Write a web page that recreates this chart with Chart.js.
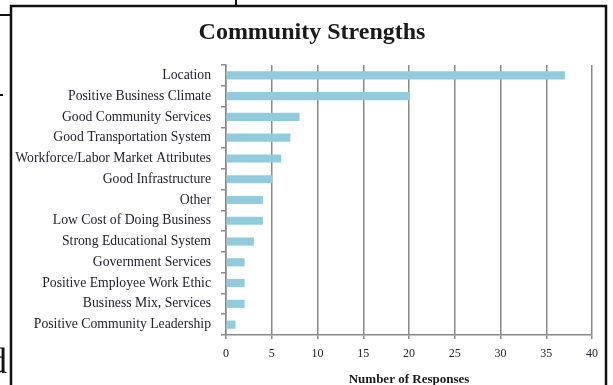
<!DOCTYPE html>
<html>
<head>
<meta charset="utf-8">
<title>Community Strengths</title>
<script src="https://cdn.jsdelivr.net/npm/chart.js@4/dist/chart.umd.min.js"></script>
<style>
  html, body { margin: 0; padding: 0; background: #ffffff; }
  #wrap { width: 613px; height: 385px; position: relative; }
</style>
</head>
<body>
<div id="wrap"><canvas id="chart" width="613" height="385"></canvas></div>
<script>
// Survey answers: what respondents named as the community's strengths
const categories = [
  'Location',
  'Positive Business Climate',
  'Good Community Services',
  'Good Transportation System',
  'Workforce/Labor Market Attributes',
  'Good Infrastructure',
  'Other',
  'Low Cost of Doing Business',
  'Strong Educational System',
  'Government Services',
  'Positive Employee Work Ethic',
  'Business Mix, Services',
  'Positive Community Leadership'
];
const responses = [37, 20, 8, 7, 6, 5, 4, 4, 3, 2, 2, 2, 1];
const xTickValues = [0, 5, 10, 15, 20, 25, 30, 35, 40];
const chartTitle = 'Community Strengths';

const SERIF = '"Liberation Serif", "DejaVu Serif", serif';
const GRID = '#8a8a8a';

// Heading, page frame around the figure and the cut-off bits of the surrounding page
const framePlugin = {
  id: 'frame',
  afterDraw(chart) {
    const ctx = chart.ctx;
    ctx.save();
    ctx.fillStyle = '#1a1a1a';
    ctx.font = 'bold 24px ' + SERIF;
    ctx.textAlign = 'center';
    ctx.textBaseline = 'middle';
    ctx.fillText(chartTitle, 312, 33);

    ctx.strokeStyle = '#111111';
    ctx.lineWidth = 2.5;
    ctx.beginPath();
    ctx.moveTo(11, 385); ctx.lineTo(11, 6); ctx.lineTo(606, 6); ctx.lineTo(606, 385);
    ctx.stroke();
    ctx.lineWidth = 2;
    ctx.beginPath();
    ctx.moveTo(0, 15); ctx.lineTo(10, 15);
    ctx.moveTo(236, 0); ctx.lineTo(236, 5);
    ctx.moveTo(0, 95); ctx.lineTo(3, 95);
    ctx.stroke();
    ctx.fillStyle = '#111111';
    ctx.font = '36px ' + SERIF;
    ctx.textAlign = 'right';
    ctx.textBaseline = 'alphabetic';
    ctx.fillText('d', 7, 373);
    ctx.restore();
  }
};

new Chart(document.getElementById('chart'), {
  type: 'bar',
  data: {
    labels: categories,
    datasets: [{
      data: responses,
      backgroundColor: '#92cbdc',
      borderWidth: 0,
      barThickness: 7.5
    }]
  },
  options: {
    indexAxis: 'y',
    responsive: false,
    animation: false,
    layout: { padding: { left: 12, right: 21, top: 65, bottom: 0 } },
    plugins: {
      legend: { display: false },
      tooltip: { enabled: false },
      title: { display: false }
    },
    scales: {
      x: {
        min: 0,
        max: 40,
        afterBuildTicks(scale) { scale.ticks = xTickValues.map(v => ({ value: v })); },
        afterFit(scale) { scale.height = 50; },
        grid: { color: GRID, lineWidth: 1.5, drawTicks: true, tickLength: 4 },
        border: { display: true, color: GRID, width: 1.5 },
        ticks: { color: '#222233', font: { family: SERIF, size: 12 }, padding: 8 },
        title: {
          display: true,
          text: 'Number of Responses',
          color: '#1a1a1a',
          font: { family: SERIF, size: 13, weight: 'bold', lineHeight: 1 },
          padding: { top: 0, bottom: -1 }
        }
      },
      y: {
        afterFit(scale) { scale.width = 214; },
        grid: { display: true, drawOnChartArea: false, drawTicks: true, tickLength: 5, color: GRID, lineWidth: 1.5, offset: true },
        border: { display: true, color: GRID, width: 1.5 },
        ticks: { color: '#222233', font: { family: SERIF, size: 13.7 }, padding: 10, autoSkip: false }
      }
    }
  },
  plugins: [framePlugin]
});
</script>
</body>
</html>
